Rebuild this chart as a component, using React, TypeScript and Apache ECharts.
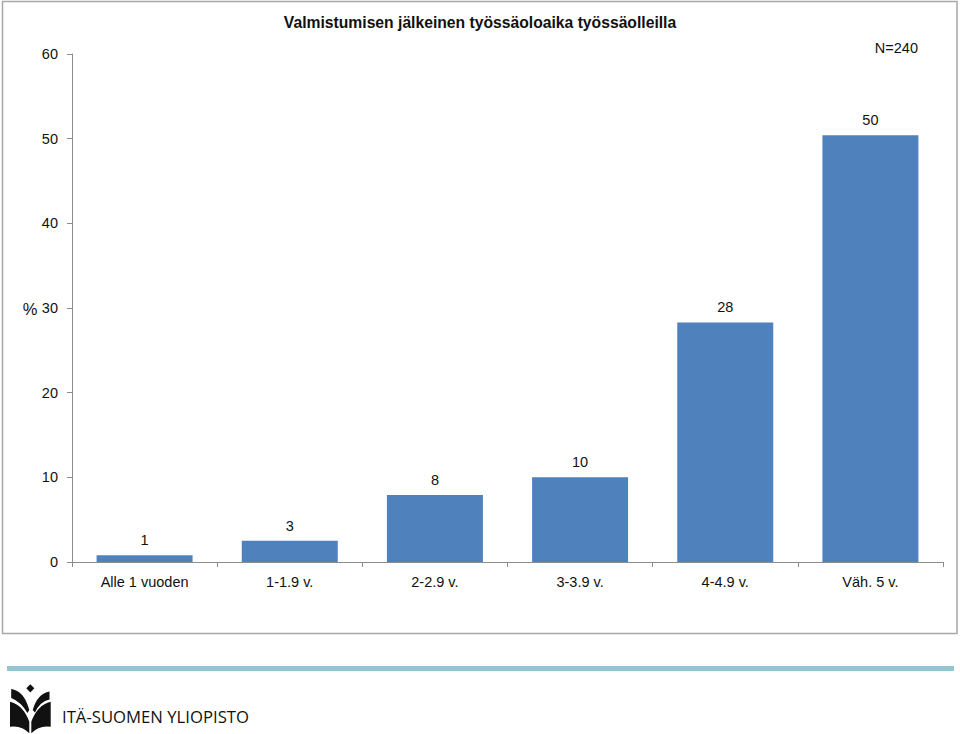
import React, { useEffect, useRef } from "react";
import * as echarts from "echarts";

const categories = ["Alle 1 vuoden", "1-1.9 v.", "2-2.9 v.", "3-3.9 v.", "4-4.9 v.", "Väh. 5 v."];
const values = [0.8, 2.5, 7.9, 10.0, 28.3, 50.4];
const yTicks = { min: 0, max: 60, interval: 10 };
const titleText = "Valmistumisen jälkeinen työssäoloaika työssäolleilla";
const nText = "N=240";
const yName = "%";
const orgName = "ITÄ-SUOMEN YLIOPISTO";

const logoD =
  "M23.3,0.3 L27.3,4.3 L23.3,8.6 L19.3,4.3 Z " +
  "M4.2,5 Q17,6.5 22.3,26 L20.5,29 Q13.5,17.5 4.2,14 Z " +
  "M42.5,7.5 Q30.5,9.5 25.7,26 L28,28.5 Q33,17.5 42.5,15.5 Z " +
  "M3,17.7 Q16.3,21 22.3,37.7 L22.3,49.3 Q14.7,41 3,42.7 Z " +
  "M43.7,17.7 Q30.3,21 24.3,37.7 L24.3,49.3 Q32,41 43.7,42.7 Z";

let registered = false;

export default function App() {
  const ref = useRef<HTMLDivElement>(null);
  useEffect(() => {
    document.body.style.margin = "0";
    if (!registered) {
      echarts.graphic.registerShape("logo", echarts.graphic.extendPath(logoD, {}) as any);
      registered = true;
    }
    const chart = echarts.init(ref.current!, null, { renderer: "svg" });
    const font = "'Liberation Sans', Arial, sans-serif";
    const fs = 14.5;
    chart.setOption({
      animation: false,
      backgroundColor: "#ffffff",
      textStyle: { fontFamily: font },
      grid: { left: 72, right: 17, top: 54, bottom: 172, containLabel: false },
      xAxis: {
        type: "category",
        data: categories,
        axisLine: { lineStyle: { color: "#8c8c8c", width: 1 } },
        axisTick: { show: true, length: 5, lineStyle: { color: "#8c8c8c" } },
        axisLabel: { color: "#111", fontSize: fs, margin: 12, fontFamily: font },
      },
      yAxis: {
        type: "value",
        min: yTicks.min,
        max: yTicks.max,
        interval: yTicks.interval,
        splitLine: { show: false },
        axisLine: { show: true, lineStyle: { color: "#8c8c8c", width: 1 } },
        axisTick: { show: true, length: 5, lineStyle: { color: "#8c8c8c" } },
        axisLabel: { color: "#111", fontSize: fs, margin: 14, fontFamily: font },
      },
      series: [
        {
          type: "bar",
          data: values,
          barWidth: 96,
          itemStyle: { color: "#4f81bd" },
          label: {
            show: true,
            position: "top",
            distance: 7.5,
            color: "#111",
            fontSize: fs,
            fontFamily: font,
            formatter: (p: any) => String(Math.round(p.value)),
          },
        },
      ],
      graphic: [
        {
          type: "rect",
          shape: { x: 2.5, y: 1.5, width: 954.5, height: 632 },
          style: { fill: "none", stroke: "#a8a8a8", lineWidth: 1.5 },
          silent: true,
          z: 0,
        },
        {
          type: "text",
          x: 480,
          y: 22,
          style: {
            text: titleText,
            fontSize: 15.7,
            fontWeight: "bold",
            fontFamily: font,
            fill: "#111",
            align: "center",
            verticalAlign: "middle",
          },
        },
        {
          type: "text",
          x: 918,
          y: 48,
          style: {
            text: nText,
            fontSize: fs,
            fontFamily: font,
            fill: "#111",
            align: "right",
            verticalAlign: "middle",
          },
        },
        {
          type: "text",
          x: 30,
          y: 309,
          style: {
            text: yName,
            fontSize: 16.5,
            fontFamily: font,
            fill: "#111",
            align: "center",
            verticalAlign: "middle",
          },
        },
        {
          type: "rect",
          shape: { x: 7, y: 666, width: 947, height: 5 },
          style: { fill: "#92c6d2" },
        },
        {
          type: "logo",
          x: 7,
          y: 684,
          scaleX: 1,
          scaleY: 1,
          style: { fill: "#111" },
        },
        {
          type: "text",
          x: 62,
          y: 716,
          style: {
            text: orgName,
            fontSize: 16.7,
            fontFamily: "'Open Sans', 'Noto Sans', sans-serif",
            fill: "#111",
            align: "left",
            verticalAlign: "middle",
          },
        },
      ],
    });
    return () => chart.dispose();
  }, []);
  return <div ref={ref} style={{ width: 960, height: 734 }} />;
}
